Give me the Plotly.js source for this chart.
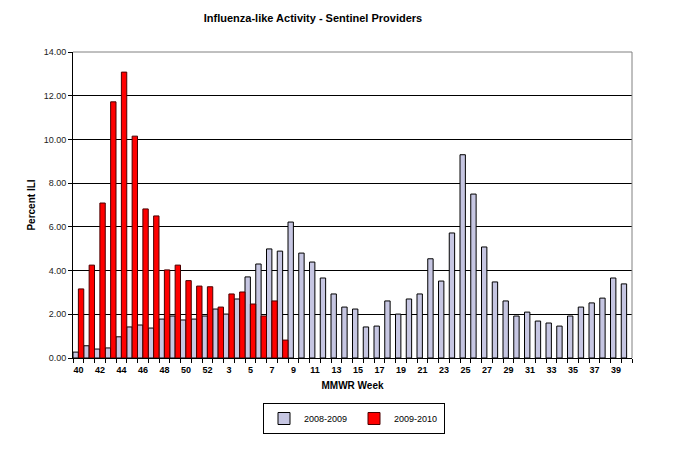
<!DOCTYPE html>
<html>
<head>
<meta charset="utf-8">
<script src="https://cdn.plot.ly/plotly-3.0.1.min.js"></script>
<style>
  html, body { margin: 0; padding: 0; background: #fff; }
  #myDiv { width: 676px; height: 462px; }
</style>
</head>
<body>
<div id="myDiv"></div>
<script>
// MMWR weeks as drawn on the axis (52 categories)
var weeks = ['40','41','42','43','44','45','46','47','48','49','50','51','52',
  '2','3','4','5','6','7','8','9','10','11','12','13','14','15','16','17','18','19','20',
  '21','22','23','24','25','26','27','28','29','30','31','32','33','34','35','36','37','38','39','40 '];

var season0809 = [0.27, 0.56, 0.41, 0.46, 0.97, 1.42, 1.51, 1.37, 1.78, 1.92, 1.74, 1.78, 1.92,
  2.24, 2.01, 2.70, 3.71, 4.30, 4.99, 4.89, 6.22, 4.80, 4.39, 3.66, 2.93, 2.33, 2.24, 1.42, 1.46,
  2.61, 2.01, 2.70, 2.93, 4.54, 3.52, 5.72, 9.30, 7.50, 5.08, 3.48, 2.61, 1.92, 2.10, 1.69, 1.60,
  1.46, 1.92, 2.33, 2.52, 2.74, 3.66, 3.39];

var season0910 = [3.16, 4.25, 7.09, 11.72, 13.08, 10.15, 6.82, 6.50, 4.03, 4.25, 3.54, 3.29, 3.26,
  2.33, 2.93, 3.02, 2.47, 1.92, 2.61, 0.82];

// every other category gets a label, every boundary gets a tick
var tickText = weeks.map(function(w, i) { return i % 2 === 0 ? w : ''; });

var trace1 = {
    type: 'bar',
    name: '2008-2009',
    x: weeks,
    y: season0809,
    marker: {color: '#C6C6E2', line: {color: '#000000', width: 1}},
    hoverinfo: 'x+y'
};

var trace2 = {
    type: 'bar',
    name: '2009-2010',
    x: weeks.slice(0, season0910.length),
    y: season0910,
    marker: {color: '#FF0000', line: {color: '#4a0000', width: 1}},
    hoverinfo: 'x+y'
};

var layout = {
    width: 676,
    height: 462,
    margin: {l: 73, r: 44, t: 52, b: 104},
    paper_bgcolor: '#ffffff',
    plot_bgcolor: '#ffffff',
    font: {family: 'Liberation Sans, Arial, sans-serif', color: '#000000', size: 10},
    barmode: 'group',
    bargap: 0,
    bargroupgap: 0,
    showlegend: true,
    title: {
        text: '<b>Influenza-like Activity - Sentinel Providers</b>',
        font: {size: 11},
        x: 313 / 676,
        xanchor: 'center',
        y: 1 - 18 / 462,
        yanchor: 'middle'
    },
    xaxis: {
        type: 'category',
        tickmode: 'array',
        tickvals: weeks,
        ticktext: tickText,
        tickangle: 0,
        tickson: 'boundaries',
        ticks: 'outside',
        ticklen: 4,
        tickcolor: '#000000',
        ticklabelstandoff: 3,
        tickfont: {size: 9, color: '#000000', weight: 'bold'},
        showline: true,
        linecolor: '#000000',
        linewidth: 1,
        showgrid: false,
        zeroline: false,
        fixedrange: true,
        title: {text: '<b>MMWR Week</b>', font: {size: 10}, standoff: 8}
    },
    yaxis: {
        range: [0, 14],
        dtick: 2,
        tickformat: '.2f',
        ticks: 'outside',
        ticklen: 4,
        tickcolor: '#000000',
        tickfont: {size: 9, color: '#222222'},
        showline: true,
        linecolor: '#000000',
        linewidth: 1,
        showgrid: true,
        gridcolor: '#000000',
        gridwidth: 1,
        zeroline: false,
        fixedrange: true,
        title: {text: '<b>Percent ILI</b>', font: {size: 10}, standoff: 6}
    },
    legend: {
        orientation: 'h',
        x: (263 - 73) / 559,
        xanchor: 'left',
        y: -(403 - 358) / 306,
        yanchor: 'top',
        bordercolor: '#000000',
        borderwidth: 1,
        bgcolor: '#ffffff',
        font: {size: 9},
        entrywidth: 45,
        itemwidth: 30,
        tracegroupgap: 0
    },
    shapes: [
        {type: 'line', xref: 'paper', yref: 'paper', x0: 0, x1: 1, y0: 1, y1: 1,
         line: {color: '#808080', width: 1}},
        {type: 'line', xref: 'paper', yref: 'paper', x0: 1, x1: 1, y0: 0, y1: 1,
         line: {color: '#808080', width: 1}}
    ]
};

Plotly.newPlot('myDiv', [trace1, trace2], layout, {displayModeBar: false, staticPlot: true});
</script>
</body>
</html>
